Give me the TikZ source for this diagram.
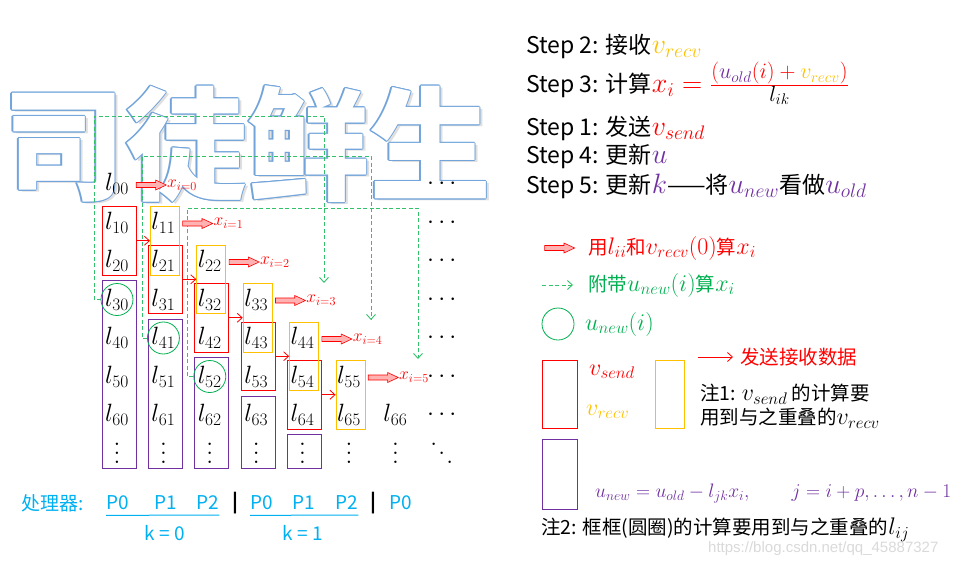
\RequirePackage{fix-cm}
\documentclass[tikz,border=0pt]{standalone}
\usepackage[no-math]{fontspec}
\setmainfont{Noto Sans CJK SC}
\newfontfamily\urlfont{Liberation Sans}
\usetikzlibrary{arrows.meta,shapes.arrows,fit}
\definecolor{sendred}{HTML}{FF0000}
\definecolor{recvyellow}{HTML}{FFC000}
\definecolor{updpurple}{HTML}{7030A0}
\definecolor{ugreen}{HTML}{00B050}
\definecolor{gline}{HTML}{33C16B}
\definecolor{procblue}{HTML}{00B0F0}
\definecolor{wmblue}{HTML}{72A4DA}
\newcommand{\colvdots}{\vbox{\baselineskip=0.37em\lineskiplimit=0pt\hbox{$.$}\hbox{$.$}\hbox{$.$}}}
\newcommand{\diagdots}{\hbox{\raisebox{0.74em}{$.$}\kern0.05em\raisebox{0.37em}{$.$}\kern0.05em$.$}}
\newcommand{\stepmath}[1]{{\fontsize{28}{30}\selectfont$#1$}}
\newcommand{\legmath}[1]{{\fontsize{24}{28}\selectfont$#1$}}
\newcommand{\fracpart}[1]{\mbox{\fontsize{22}{24}\selectfont$#1$}}

\begin{document}
\begin{tikzpicture}[x=1pt,y=-1pt]
\tikzstyle{every node}=[inner sep=0pt]
\tikzstyle{bigtitle}=[font=\fontsize{122}{122}\selectfont\bfseries]
\tikzstyle{entry}=[font=\fontsize{25}{30}\selectfont]
\tikzstyle{xlab}=[font=\fontsize{17.5}{20}\selectfont, text=sendred, anchor=west]
\tikzstyle{sendbox}=[draw=sendred, line width=0.9pt]
\tikzstyle{recvbox}=[draw=recvyellow, line width=0.9pt]
\tikzstyle{updbox}=[draw=updpurple, line width=0.9pt]
\tikzstyle{ucirc}=[circle, draw=ugreen, line width=0.8pt, minimum size=32pt]
\tikzstyle{gdash}=[draw=gline, line width=0.9pt, dash pattern=on 4pt off 2.5pt, -{Straight Barb[length=5pt,width=9pt]}]
\tikzstyle{sendarrow}=[draw=sendred, line width=0.8pt, -{Straight Barb[length=5pt,width=9pt]}]
\tikzstyle{dblarrow}=[single arrow, draw=sendred, fill=sendred!30, line width=0.6pt, inner xsep=0pt, inner ysep=2.2pt, minimum height=30pt, single arrow head extend=2.5pt, single arrow tip angle=50]
\tikzstyle{steptext}=[font=\fontsize{23}{28}\selectfont, anchor=base west]
\tikzstyle{legtext}=[font=\fontsize{19.5}{24}\selectfont, anchor=west]
\tikzstyle{proctext}=[font=\fontsize{19}{23}\selectfont, text=procblue]

\useasboundingbox (0,0) rectangle (963,568);

\node[bigtitle, text=gray!25] at (250,146) {司徒鲜生};
\foreach \dx/\dy in {-1.3/0,1.3/0,0/-1.3,0/1.3,-.9/-.9,.9/-.9,-.9/.9,.9/.9}
  \node[bigtitle, text=wmblue] at ({247+\dx},{144+\dy}) {司徒鲜生};
\node[bigtitle, text=white] (title) at (247,144) {司徒鲜生};

\foreach \i in {0,...,6}{
  \foreach \j in {0,...,\i}{
    \node[entry] (l-\i-\j) at ({117+46.4*\j},{184+38.5*\i}) {$l_{\i\j}$};
  }
  \node[entry] (hd-\i) at ({117+46.4*7},{184+38.5*\i}) {$\cdots$};
}
\foreach \j in {0,...,6}
  \node[entry] (vd-\j) at ({117+46.4*\j},453.5) {\colvdots};
\node[entry] (dd) at ({117+46.4*7},453.5) {\diagdots};

\foreach \j in {0,...,4}{
  \node[sendbox, fit={({102+46.4*\j},{206.5+38.5*\j}) ({136+46.4*\j},{275+38.5*\j})}] (send-\j) {};
  \node[updbox, fit={({102+46.4*\j},{280.5+38.5*\j}) ({136+46.4*\j},468)}] (upd-\j) {};
}
\foreach \k in {1,...,5}
  \node[recvbox, fit={({104+46.4*\k},{168+38.5*\k}) ({133+46.4*\k},{236.5+38.5*\k})}] (recv-\k) {};
\foreach \j in {0,...,4}{
  \pgfmathtruncatemacro\nextk{\j+1}
  \draw[sendarrow] (send-\j.east) -- (recv-\nextk.west);
}

\foreach \j in {0,1,2}{
  \pgfmathtruncatemacro\rowi{\j+3}
  \node[ucirc] (c-\j) at (l-\rowi-\j) {};
}
\coordinate (gk-0) at (94,116);  \coordinate (g-0) at (324,283);
\coordinate (gk-1) at (142,156); \coordinate (g-1) at (371,320);
\coordinate (gk-2) at (187,208); \coordinate (g-2) at (418,359);
\foreach \j in {0,1,2}
  \draw[gdash] (c-\j.west) -| (gk-\j) -| (g-\j);

\foreach \i in {0,...,5}{
  \node[xlab] (x-\i) at ({167+46.4*\i},{185+38.5*\i}) {$x_{i=\i}$};
  \node[dblarrow, anchor=tip] (a-\i) at (x-\i.west) {};
}

\node[steptext] (s-2) at (526,53) {Step 2: 接收\stepmath{\textcolor{recvyellow}{v_{recv}}}};
\node[steptext] (s-3) at (526,92) {Step 3: 计算\stepmath{\textcolor{sendred}{x_i = \frac{\fracpart{(\textcolor{updpurple}{u_{old}}(i)+\textcolor{recvyellow}{v_{recv}})}}{\fracpart{\textcolor{black}{l_{ik}}}}}}};
\node[steptext] (s-1) at (526,135) {Step 1: 发送\stepmath{\textcolor{sendred}{v_{send}}}};
\node[steptext] (s-4) at (526,163) {Step 4: 更新\stepmath{\textcolor{updpurple}{u}}};
\node[steptext] (s-5) at (526,193) {Step 5: 更新\stepmath{\textcolor{updpurple}{k}}——将\stepmath{\textcolor{updpurple}{u_{new}}}看做\stepmath{\textcolor{updpurple}{u_{old}}}};

\node[dblarrow] (leg-dbl) at (557,248) {};
\node[legtext, text=sendred] (leg-dbl-t) at (588,248) {用\legmath{l_{ii}}和\legmath{v_{recv}(0)}算\legmath{x_i}};
\coordinate (leg-ga) at (542,285); \coordinate (leg-gb) at (573,285);
\draw[gdash] (leg-ga) -- (leg-gb);
\node[legtext, text=ugreen] (leg-g-t) at (588,285) {附带\legmath{u_{new}(i)}算\legmath{x_i}};
\node[ucirc] (leg-c) at (558,324) {};
\node[legtext, text=ugreen] (leg-c-t) at (585,324) {\legmath{u_{new}(i)}};
\node[sendbox, minimum width=35pt, minimum height=68pt] (leg-send) at (559.5,394) {};
\node[legtext, text=sendred] (leg-send-t) at (589,372) {\legmath{v_{send}}};
\node[legtext, text=recvyellow] (leg-recv-t) at (586,412) {\legmath{v_{recv}}};
\node[recvbox, minimum width=29pt, minimum height=68pt] (leg-recv) at (669.5,394) {};
\coordinate (leg-sa) at (698,357); \coordinate (leg-sb) at (733,357);
\draw[sendarrow] (leg-sa) -- (leg-sb);
\node[legtext, text=sendred] (leg-s-t) at (740,357) {发送接收数据};
\node[legtext] (note-1a) at (700,394) {注1: \legmath{v_{send}} 的计算要};
\node[legtext] (note-1b) at (700,418) {用到与之重叠的\legmath{v_{recv}}};
\node[updbox, minimum width=35pt, minimum height=70pt] (leg-upd) at (559.5,474) {};
\node[legtext, text=updpurple] (leg-upd-t) at (595,494) {$u_{new} = u_{old} - l_{jk}x_i, \qquad j = i+p, \ldots, n-1$};
\node[legtext] (note-2) at (541,530) {注2: 框框(圆圈)的计算要用到与之重叠的\legmath{l_{ij}}};
\node[font=\urlfont\fontsize{15}{18}\selectfont, text=gray!30, anchor=west] (url) at (708,549) {https://blog.csdn.net/qq\_45887327};

\node[proctext, anchor=west] (proc) at (21,503) {处理器:};
\foreach \n/\x/\p in {0/117.5/P0,1/165.5/P1,2/208/P2,3/261.5/P0,4/304/P1,5/347/P2,6/400.5/P0}
  \node[proctext] (p-\n) at (\x,503) {\p};
\node[proctext, text=black] (sep-1) at (235,503) {\textbf{|}};
\node[proctext, text=black] (sep-2) at (373,503) {\textbf{|}};
\draw[procblue, line width=1pt] ([yshift=-5pt]p-0.south west) -- ([yshift=-5pt]p-2.south east);
\draw[procblue, line width=1pt] ([yshift=-5pt]p-3.south west) -- ([yshift=-5pt]p-5.south east);
\node[proctext] (k-0) at (165,533) {k = 0};
\node[proctext] (k-1) at (303,533) {k = 1};
\end{tikzpicture}
\end{document}
